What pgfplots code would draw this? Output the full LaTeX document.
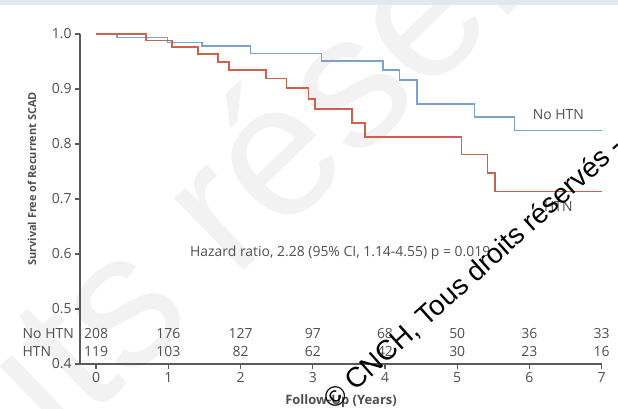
\documentclass[border=0pt]{standalone}
\usepackage{pgfplots}
\pgfplotsset{compat=1.18}
\usetikzlibrary{calc}
\usepackage{fontspec}
\setmainfont{Open Sans}
\newfontfamily\wmfont{Liberation Sans}
\definecolor{kmblue}{RGB}{122,162,204}
\definecolor{kmred}{RGB}{206,96,76}
\definecolor{txt}{RGB}{80,80,80}
\definecolor{axc}{RGB}{90,90,90}
\definecolor{band}{RGB}{224,232,240}
\pgfdeclarelayer{bg}
\pgfsetlayers{bg,main}
\begin{document}
\begin{tikzpicture}[x=1bp,y=1bp]
\begin{axis}[
  scale only axis,
  width=521.7bp, height=330bp,
  xmin=-0.222, xmax=7, ymin=0.4, ymax=1.0,
  axis x line*=bottom, axis y line*=left,
  axis line style={axc, line width=1.4pt},
  xtick={0,1,2,3,4,5,6,7},
  ytick={0.4,0.5,0.6,0.7,0.8,0.9,1.0},
  yticklabel style={/pgf/number format/fixed, /pgf/number format/fixed zerofill, /pgf/number format/precision=1},
  /pgf/number format/assume math mode=true,
  tick align=outside, major tick length=5bp,
  tick style={axc, line width=1.2pt},
  ticklabel style={font=\fontsize{14}{14}\selectfont, text=txt},
  clip=false,
]
\addplot[const plot, kmblue, line width=1.5pt] coordinates {
(0,1.0) (0.29,0.994) (0.99,0.985) (1.47,0.978) (2.14,0.965) (3.12,0.951)
(3.97,0.935) (4.20,0.916) (4.44,0.873) (5.24,0.849) (5.79,0.825) (7.0,0.825)};
\addplot[const plot, kmred, line width=1.5pt] coordinates {
(0,1.0) (0.69,0.988) (1.05,0.976) (1.41,0.964) (1.69,0.949) (1.84,0.935)
(2.35,0.919) (2.64,0.902) (2.94,0.882) (3.03,0.864) (3.54,0.838) (3.72,0.813)
(5.06,0.781) (5.42,0.747) (5.52,0.714) (7.0,0.714)};
\begin{scope}[every node/.style={text=txt, font=\fontsize{14}{14}\selectfont, inner sep=0pt}]
\node[anchor=west] at (axis cs:1.30,0.602) {Hazard ratio, 2.28 (95\% CI, 1.14-4.55) p = 0.019};
\node at (axis cs:6.40,0.853) {No HTN};
\node at (axis cs:6.40,0.687) {HTN};
\node at (axis cs:0,0.455) {208};
\node at (axis cs:1,0.455) {176};
\node at (axis cs:2,0.455) {127};
\node at (axis cs:3,0.455) {97};
\node at (axis cs:4,0.455) {68};
\node at (axis cs:5,0.455) {50};
\node at (axis cs:6,0.455) {36};
\node at (axis cs:7,0.455) {33};
\node at (axis cs:0,0.423) {119};
\node at (axis cs:1,0.423) {103};
\node at (axis cs:2,0.423) {82};
\node at (axis cs:3,0.423) {62};
\node at (axis cs:4,0.423) {42};
\node at (axis cs:5,0.423) {30};
\node at (axis cs:6,0.423) {23};
\node at (axis cs:7,0.423) {16};
\end{scope}
\coordinate (O) at (rel axis cs:0,0);
\end{axis}
\coordinate (P) at ($(O)+(-80,-44)$);
\begin{scope}[shift={(P)}]
\begin{pgfonlayer}{bg}
\fill[white] (0,0) rectangle (618,408);
\begin{scope}
\clip (0,0) rectangle (618,408);
\node[rotate=44, anchor=base west, text=black!5, font=\wmfont\fontsize{190}{190}\selectfont, inner sep=0pt] at (60,-40) {its réservés};
\end{scope}
\fill[band] (0,403) rectangle (618,408);
\end{pgfonlayer}
\begin{scope}[every node/.style={text=txt, font=\fontsize{14}{14}\selectfont, inner sep=0pt}]
\node[anchor=west] at (22.5,74) {No HTN};
\node[anchor=west] at (22.5,56.3) {HTN};
\node[rotate=90, font=\bfseries\fontsize{11}{11}\selectfont] at (32,229) {Survival Free of Recurrent SCAD};
\node[font=\bfseries\fontsize{13}{13}\selectfont] at (341,7) {Follow-Up (Years)};
\end{scope}
\begin{scope}
\clip (0,0) rectangle (618,408);
\node[rotate=42, anchor=base west, text=black, font=\wmfont\fontsize{28}{28}\selectfont, inner sep=0pt] at (334,-3) {\textcopyright\ CNCH, Tous droits réservés - CNCH};
\end{scope}
\end{scope}
\pgfresetboundingbox
\useasboundingbox (P) rectangle ($(P)+(618,408)$);
\end{tikzpicture}
\end{document}
